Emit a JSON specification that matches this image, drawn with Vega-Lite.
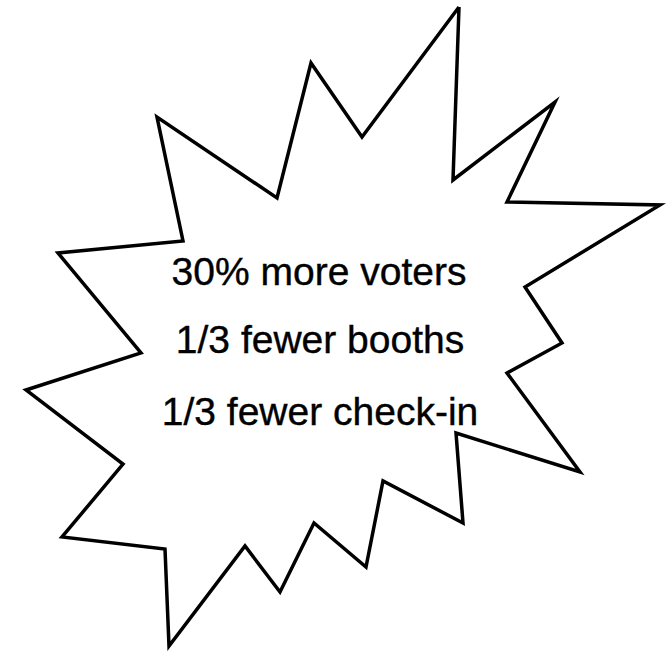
{
  "$schema": "https://vega.github.io/schema/vega-lite/v6.json",
  "width": 668,
  "height": 651,
  "padding": 0,
  "autosize": {"type": "none"},
  "background": "white",
  "config": {"view": {"stroke": null}},
  "datasets": {
    "star": [
      {"i": 1, "px": 459, "py": 7},
      {"i": 2, "px": 453, "py": 180},
      {"i": 3, "px": 555, "py": 102},
      {"i": 4, "px": 507, "py": 202},
      {"i": 5, "px": 660, "py": 205},
      {"i": 6, "px": 525, "py": 287},
      {"i": 7, "px": 562, "py": 343},
      {"i": 8, "px": 507, "py": 373},
      {"i": 9, "px": 580, "py": 472},
      {"i": 10, "px": 456, "py": 433},
      {"i": 11, "px": 463, "py": 523},
      {"i": 12, "px": 383, "py": 481},
      {"i": 13, "px": 366, "py": 567},
      {"i": 14, "px": 314, "py": 523},
      {"i": 15, "px": 280, "py": 592},
      {"i": 16, "px": 245, "py": 546},
      {"i": 17, "px": 169, "py": 646},
      {"i": 18, "px": 165, "py": 549},
      {"i": 19, "px": 62, "py": 537},
      {"i": 20, "px": 123, "py": 464},
      {"i": 21, "px": 26, "py": 390},
      {"i": 22, "px": 141, "py": 353},
      {"i": 23, "px": 58, "py": 253},
      {"i": 24, "px": 183, "py": 241},
      {"i": 25, "px": 157, "py": 117},
      {"i": 26, "px": 277, "py": 198},
      {"i": 27, "px": 311, "py": 63},
      {"i": 28, "px": 362, "py": 137},
      {"i": 29, "px": 459, "py": 7}
    ],
    "labels": [
      {"label": "30% more voters", "px": 319, "py": 285},
      {"label": "1/3 fewer booths", "px": 320, "py": 353},
      {"label": "1/3 fewer check-in", "px": 320, "py": 425}
    ]
  },
  "layer": [
    {
      "data": {"name": "star"},
      "mark": {"type": "line", "color": "black", "strokeWidth": 3.5, "strokeJoin": "miter", "strokeMiterLimit": 20},
      "encoding": {
        "x": {"field": "px", "type": "quantitative", "scale": {"domain": [0, 668], "nice": false, "zero": false}, "axis": null},
        "y": {"field": "py", "type": "quantitative", "scale": {"domain": [0, 651], "nice": false, "zero": false, "reverse": true}, "axis": null},
        "order": {"field": "i", "type": "quantitative"}
      }
    },
    {
      "data": {"name": "labels"},
      "mark": {"type": "text", "font": "Liberation Sans", "fontSize": 39, "align": "center", "baseline": "alphabetic", "color": "black", "stroke": "black", "strokeWidth": 0.4},
      "encoding": {
        "x": {"field": "px", "type": "quantitative"},
        "y": {"field": "py", "type": "quantitative"},
        "text": {"field": "label"}
      }
    }
  ]
}
